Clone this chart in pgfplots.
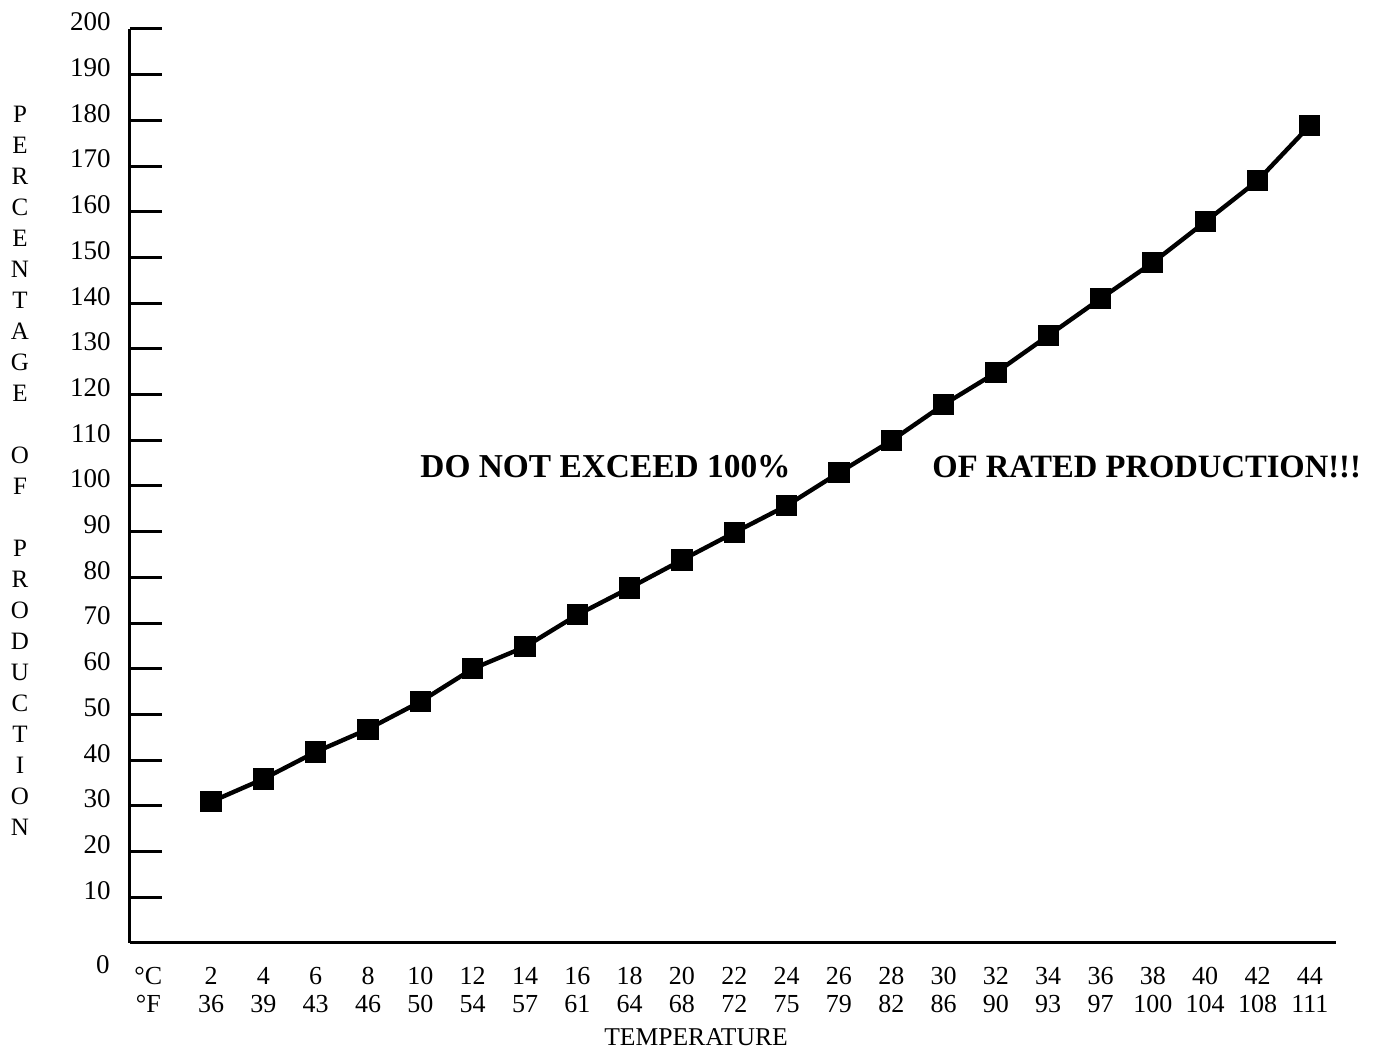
\documentclass[border=0pt]{standalone}
\usepackage{pgfplots}
\pgfplotsset{compat=1.18}
\usepackage{fontspec}
\setmainfont{Liberation Serif}

\pgfplotstableread{
t v
2 30.9
4 35.9
6 41.8
8 46.8
10 52.8
12 60.0
14 64.8
16 71.8
18 77.7
20 83.8
22 89.8
24 95.7
26 102.9
28 109.9
30 117.8
32 124.8
34 132.9
36 141.0
38 148.9
40 157.8
42 166.8
44 178.9
}\datatable

\begin{document}
\begin{tikzpicture}
\useasboundingbox (-65pt,-53pt) rectangle (621.5pt,471.5pt);
\begin{axis}[
  at={(0pt,0pt)}, anchor=south west,
  scale only axis,
  width=603pt, height=457pt,
  xmin=-1.1, xmax=45, ymin=0, ymax=200,
  axis lines=left,
  axis line style={-, line width=1.5pt},
  tick align=inside,
  tick style={black, line width=1.5pt},
  major tick length=16pt,
  minor tick length=11pt,
  /pgf/number format/assume math mode=true,
  ytick={10,20,...,200},
  yticklabel style={font=\fontsize{13.5}{14}\selectfont, inner sep=0pt, anchor=east, yshift=3.5pt},
  yticklabel shift=9.5pt,
  xtick={2,4,...,44},
  xtick style={draw=none},
  minor xtick={1,3,...,45},
  xticklabels={\strut 2\\36,\strut 4\\39,\strut 6\\43,\strut 8\\46,\strut 10\\50,\strut 12\\54,\strut 14\\57,\strut 16\\61,\strut 18\\64,\strut 20\\68,\strut 22\\72,\strut 24\\75,\strut 26\\79,\strut 28\\82,\strut 30\\86,\strut 32\\90,\strut 34\\93,\strut 36\\97,\strut 38\\100,\strut 40\\104,\strut 42\\108,\strut 44\\111},
  xticklabel style={font=\fontsize{13}{14}\selectfont, inner sep=0pt, anchor=north, align=center},
  xticklabel shift=11pt,
  extra x ticks={-0.4},
  extra x tick labels={\strut °C\\°F},
  extra x tick style={major tick length=0pt},
  clip=false,
]
\addplot[black, line width=2.2pt, mark=square*, mark size=4.2pt, mark options={solid}] table[x=t, y=v] {\datatable};
\end{axis}
\node[font=\fontsize{13.5}{14}\selectfont, inner sep=0pt] at (-13.5pt,-11pt) {0};
\node[font=\fontsize{12.8}{14}\selectfont, inner sep=0pt] at (283pt,-47pt) {TEMPERATURE};
\node[font=\fontsize{12.5}{15.5}\selectfont, inner sep=0pt, align=center] at (-55pt,236pt)
  {P\\E\\R\\C\\E\\N\\T\\A\\G\\E\\[15.5pt]O\\F\\[15.5pt]P\\R\\O\\D\\U\\C\\T\\I\\O\\N};
\node[font=\fontsize{16.7}{18}\selectfont\bfseries, inner sep=0pt, anchor=west] at (145pt,238pt) {DO NOT EXCEED 100\%};
\node[font=\fontsize{16.3}{18}\selectfont\bfseries, inner sep=0pt, anchor=west] at (401pt,238pt) {OF RATED PRODUCTION!!!};
\end{tikzpicture}
\end{document}
